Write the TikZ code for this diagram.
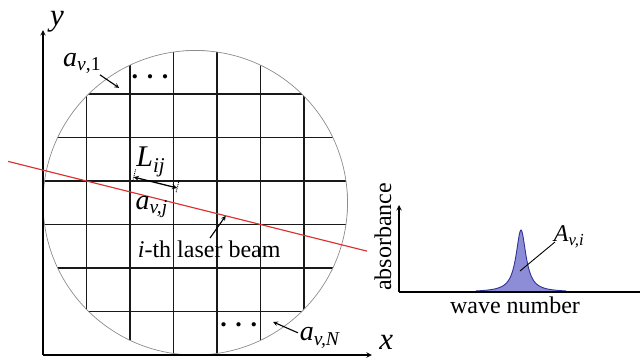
\documentclass[tikz,border=0pt]{standalone}
\usepackage{fontspec}
\setmainfont{Liberation Serif}
\usetikzlibrary{arrows,calc}
\definecolor{beamred}{RGB}{222,50,50}
\definecolor{peakfill}{RGB}{140,140,215}
\definecolor{peakline}{RGB}{50,50,150}
\begin{document}
\begin{tikzpicture}[x=1pt,y=1pt,
    axisArr/.style={->,>=stealth,line width=1.4pt},
    gridLine/.style={line width=1.4pt,black!90},
    ptrArr/.style={->,>=stealth,line width=1.1pt},
    lblBig/.style={font=\fontsize{31}{36}\selectfont\itshape,inner sep=0pt},
    lblMid/.style={font=\fontsize{28}{32}\selectfont,inner sep=0pt},
    lblTxt/.style={font=\fontsize{24}{28}\selectfont,inner sep=0pt},
    lblDots/.style={font=\fontsize{26}{28}\selectfont\bfseries,inner sep=0pt},
]
\useasboundingbox (0,0) rectangle (640,358);
% cell grid inside the circle
\begin{scope}[shift={(43,3)},x=43.5pt,y=43.5pt]
\coordinate (O) at (0,0);
\begin{scope}
\clip (3.5,3.5) circle (3.5);
\foreach \k in {0,...,7} {
  \draw[gridLine] (\k,0) -- (\k,7);
  \draw[gridLine] (0,\k) -- (7,\k);
}
\end{scope}
\draw[black!45,line width=0.7pt] (3.5,3.5) circle (3.5);
\draw[axisArr] (O) -- (7.56,0) coordinate (xEnd);
\draw[axisArr] (O) -- (0,7.47) coordinate (yEnd);
\node[lblBig] (xLbl) at (7.89,0.3) {x};
\node[lblBig] (yLbl) at (0.32,7.66) {y};
% laser beam
\coordinate (beamA) at (-0.8,4.45);
\coordinate (beamB) at (7.45,2.3875);
\draw[beamred,line width=1.2pt] (beamA) -- (beamB);
\coordinate (P1) at (2,3.75);
\coordinate (P2) at (3,3.5);
\coordinate (beamHit) at (4.2,3.2);
% path length in cell j
\draw[densely dotted,line width=0.9pt] ($(P1)+(0.0606,0.2425)$) -- ($(P1)+(0.1334,0.5335)$);
\draw[densely dotted,line width=0.9pt] ($(P2)+(0.0606,0.2425)$) -- ($(P2)+(0.1334,0.5335)$);
\draw[<->,>=stealth,line width=1.3pt] ($(P1)+(0.0849,0.3395)$) -- ($(P2)+(0.0849,0.3395)$);
\node[lblMid,font=\fontsize{30}{34}\selectfont] (Lij) at (2.48,4.44) {\textit{L}\textsubscript{\textit{ij}}};
\node[lblMid] (avj) at (2.5,3.4) {\textit{a}\textsubscript{\textit{v,j}}};
\node[lblTxt] (beamLbl) at (3.82,2.44) {\textit{i}-th laser beam};
\draw[ptrArr] (3.84,2.69) -- (beamHit);
% first and last cells
\node[lblMid] (av1) at (0.9,6.71) {\textit{a}\textsubscript{\textit{v},1}};
\draw[ptrArr] (1.31,6.44) -- (1.75,6.14);
\node[lblDots] (dotsTop) at (2.46,6.4) {.\,\,.\,\,.};
\node[lblDots] (dotsBot) at (4.5,0.69) {.\,\,.\,\,.};
\node[lblMid] (avN) at (6.37,0.39) {\textit{a}\textsubscript{\textit{v,N}}};
\draw[ptrArr] (5.86,0.51) -- (5.29,0.76);
\end{scope}
% absorbance spectrum
\coordinate (S) at (399,66);
\fill[peakfill] plot[domain=-45:45,samples=121] ({521+\x},{66+62/(1+(\x/6)^2)}) -- cycle;
\draw[peakline,line width=0.9pt] plot[domain=-45:45,samples=121] ({521+\x},{66+62/(1+(\x/6)^2)});
\draw[axisArr] (S) -- (399,153);
\draw[line width=1.4pt] (S) -- (640,66);
\node[lblTxt,rotate=90] (absLbl) at (383,121) {absorbance};
\node[lblTxt] (wnLbl) at (515,53) {wave number};
\node[lblTxt] (Avi) at (569,121) {\textit{A}\textsubscript{\textit{v,i}}};
\draw[line width=0.9pt] (520,87) -- (555,116);
\end{tikzpicture}
\end{document}
